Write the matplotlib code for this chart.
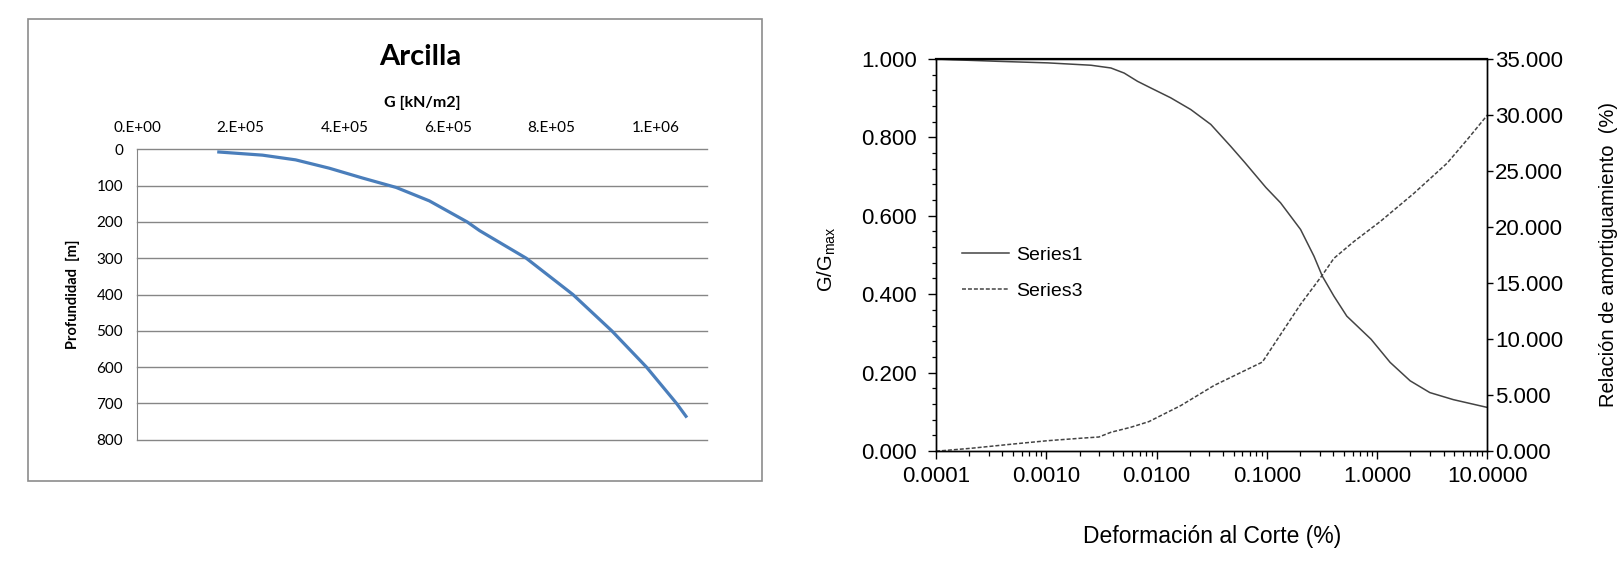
import matplotlib
matplotlib.use("Agg")
import matplotlib.pyplot as plt
from matplotlib.patches import Rectangle
from matplotlib.ticker import MultipleLocator, LogLocator, FuncFormatter, NullFormatter

# ---------------- data ----------------
# left: G modulus vs depth (Arcilla)
g_mod = [1.547e5, 2.42e5, 3.06e5, 3.71e5, 4.35e5, 5.0e5, 5.64e5, 6.37e5, 6.61e5,
         7.51e5, 8.41e5, 9.16e5, 9.83e5, 1.041e6, 1.061e6]
depth = [7, 16, 29, 52, 79, 105, 142, 200, 224, 300, 400, 500, 600, 700, 739]
g_ticks = [0, 2e5, 4e5, 6e5, 8e5, 1e6]
g_ticklabels = ["0.E+00", "2.E+05", "4.E+05", "6.E+05", "8.E+05", "1.E+06"]
depth_ticks = [0, 100, 200, 300, 400, 500, 600, 700, 800]

# right: G/Gmax (Series1) and damping (Series3) vs shear strain
strain1 = [1e-4, 1.42e-4, 3.62e-4, 1.03e-3, 2.54e-3, 3.85e-3, 5.08e-3, 6.71e-3, 8.86e-3,
           0.0134, 0.0204, 0.031, 0.047, 0.063, 0.098, 0.133, 0.202, 0.267, 0.318,
           0.405, 0.53, 0.88, 1.31, 1.99, 3.0, 4.9, 10.0]
g_ratio = [1.000, 0.998, 0.994, 0.990, 0.984, 0.977, 0.964, 0.943, 0.926,
           0.901, 0.871, 0.833, 0.777, 0.736, 0.672, 0.633, 0.565, 0.497, 0.446,
           0.395, 0.344, 0.285, 0.226, 0.179, 0.149, 0.131, 0.111]
strain3 = [1e-4, 1.15e-4, 2.07e-4, 5.1e-4, 1.03e-3, 2.06e-3, 3.0e-3, 3.85e-3, 5.84e-3,
           8.5e-3, 0.0166, 0.0332, 0.091, 0.133, 0.202, 0.318, 0.405, 0.615, 1.07,
           2.15, 4.31, 6.55, 10.0]
damping = [0.0, 0.03, 0.24, 0.63, 0.92, 1.14, 1.25, 1.67, 2.12,
           2.62, 4.06, 5.85, 7.94, 10.4, 13.1, 15.7, 17.2, 18.7, 20.5,
           23.0, 25.7, 27.8, 30.0]
strain_ticks = [1e-4, 1e-3, 1e-2, 1e-1, 1, 10]

# ---------------- figure ----------------
fig = plt.figure(figsize=(16.2, 5.61), dpi=100)

# LEFT CHART (Excel style)
excel_font = "Lato"
fig.patches.append(Rectangle((0.0173, 0.1426), 0.4531, 0.8235, transform=fig.transFigure,
                             fill=False, edgecolor="#8c8c8c", linewidth=1.2))

ax1 = fig.add_axes([0.0846, 0.2162, 0.3519, 0.5176])
ax1.plot(g_mod, depth, color="#4a7ebb", linewidth=2.3, solid_capstyle="butt")
ax1.set_xlim(0, 1.1e6)
ax1.set_ylim(800, 0)
ax1.set_xticks(g_ticks)
ax1.set_xticklabels(g_ticklabels)
ax1.set_yticks(depth_ticks)
ax1.xaxis.tick_top()
ax1.tick_params(axis="both", length=0, labelsize=11, colors="black")
ax1.tick_params(axis="x", pad=10)
ax1.tick_params(axis="y", pad=10)
for lab in ax1.get_xticklabels() + ax1.get_yticklabels():
    lab.set_family(excel_font)
ax1.grid(axis="y", color="#868686", linewidth=1)
for gl in ax1.get_ygridlines():
    gl.set_clip_on(False)
ax1.set_axisbelow(True)
for s in ["top", "right", "bottom"]:
    ax1.spines[s].set_visible(False)
ax1.spines["left"].set_color("#868686")
ax1.set_ylabel("Profundidad  [m]", fontsize=10.5, fontweight="bold", family=excel_font)
ax1.yaxis.set_label_coords(-0.1, 0.5)
fig.text(0.2593, 0.8984, "Arcilla", ha="center", va="center", fontsize=21,
         fontweight="bold", family=excel_font)
fig.text(0.2605, 0.8164, "G [kN/m2]", ha="center", va="center", fontsize=11.5,
         fontweight="bold", family=excel_font)

# RIGHT CHART
arial = "Liberation Sans"
line_col = "#444444"
ax2 = fig.add_axes([0.5778, 0.1961, 0.3404, 0.6988])
ax3 = ax2.twinx()

l1, = ax2.plot(strain1, g_ratio, color=line_col, linewidth=1.1, label="Series1")
l3, = ax3.plot(strain3, damping, color=line_col, linewidth=1.1,
               linestyle=(0, (2.6, 1.3)), label="Series3")

ax2.set_xscale("log")
ax2.set_xlim(1e-4, 10)
ax2.set_ylim(0, 1)
ax3.set_ylim(0, 35)

ax2.set_xticks(strain_ticks)
ax2.xaxis.set_major_formatter(FuncFormatter(lambda v, p: f"{v:.4f}"))
ax2.xaxis.set_minor_locator(LogLocator(base=10, subs=range(2, 10)))
ax2.xaxis.set_minor_formatter(NullFormatter())
ax2.yaxis.set_major_locator(MultipleLocator(0.2))
ax2.yaxis.set_minor_locator(MultipleLocator(0.04))
ax2.yaxis.set_major_formatter(FuncFormatter(lambda v, p: f"{v:.3f}"))
ax3.yaxis.set_major_locator(MultipleLocator(5))
ax3.yaxis.set_major_formatter(FuncFormatter(lambda v, p: f"{v:.3f}"))

ax2.tick_params(axis="x", which="major", direction="out", length=6, width=1, pad=5, labelsize=16)
ax2.tick_params(axis="x", which="minor", direction="out", length=3.5, width=0.9)
ax2.tick_params(axis="y", which="major", direction="out", length=6, width=1, pad=8, labelsize=16)
ax2.tick_params(axis="y", which="minor", direction="out", length=3, width=0.9)
ax3.tick_params(axis="y", which="major", direction="out", length=4, width=1, pad=1.5, labelsize=16)
for lab in ax2.get_xticklabels() + ax2.get_yticklabels() + ax3.get_yticklabels():
    lab.set_family(arial)

for a in (ax2, ax3):
    for s in a.spines.values():
        s.set_linewidth(1.0)
        s.set_color("black")
ax2.spines["top"].set_linewidth(1.6)

ax2.set_xlabel("Deformación al Corte (%)", fontsize=16.5, family=arial)
ax2.xaxis.set_label_coords(0.50, -0.189)
ax2.set_ylabel(r"G/G$_{\mathregular{max}}$", fontsize=14.5, family=arial)
ax2.yaxis.set_label_coords(-0.178, 0.49)
ax3.set_ylabel("Relación de amortiguamiento  (%)", fontsize=14.5, family=arial)
ax3.yaxis.set_label_coords(1.202, 0.5)

leg = ax2.legend(handles=[l1, l3], loc="center left", bbox_to_anchor=(0.047, 0.453),
                 frameon=False, borderpad=0, borderaxespad=0, handlelength=2.4,
                 handletextpad=0.4, labelspacing=0.95, prop={"family": arial, "size": 14})

fig.savefig("out.png", dpi=100)
